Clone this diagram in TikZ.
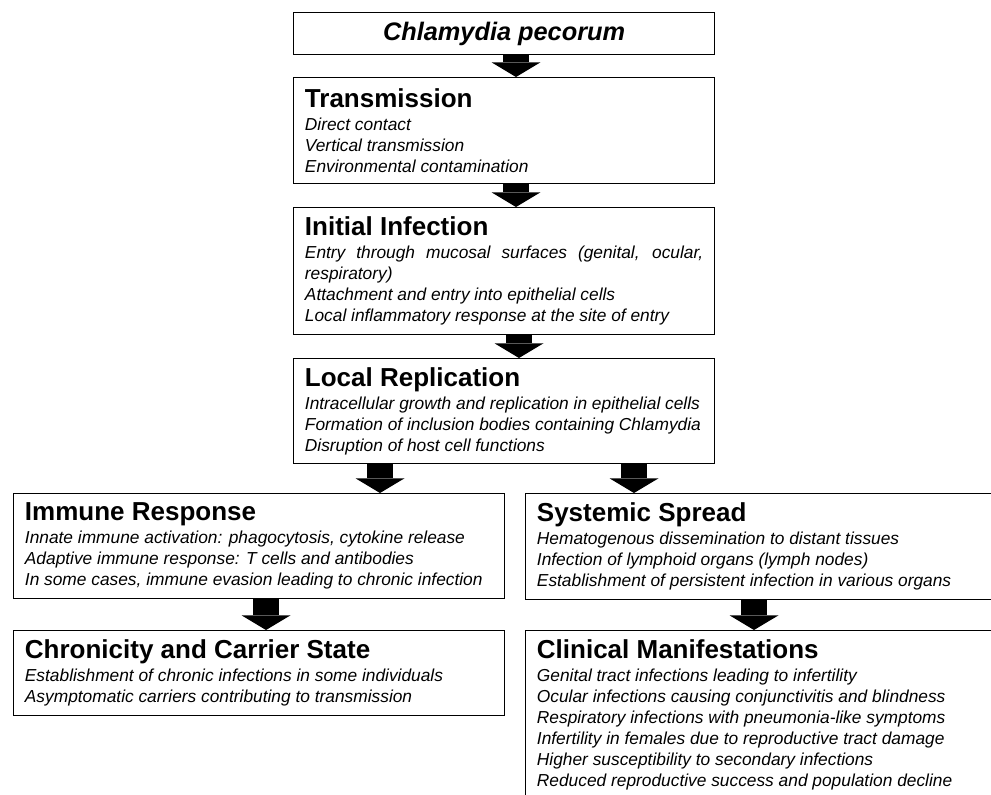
\documentclass[tikz,border=0pt]{standalone}
\usepackage{fontspec}
\setmainfont{Liberation Sans}
\usepackage{tikz}
\usetikzlibrary{arrows.meta, calc}
\setlength{\parindent}{0pt}
\hyphenpenalty=10000
\exhyphenpenalty=10000
\newcommand{\stagehead}[1]{{\fontsize{19.5}{22}\selectfont\bfseries\upshape #1\par}\vspace{1.5pt}}
\tikzset{
  topbox/.style  ={draw, line width=0.9pt, anchor=north west, minimum width=315.75pt, minimum height=31.5pt, inner sep=0pt, font=\fontsize{19}{22}\selectfont\bfseries\itshape},
  stagebox/.style={draw, line width=0.9pt, anchor=north west, inner xsep=8.5pt, inner ysep=0pt, align=justify, font=\fontsize{13}{15.75}\selectfont\itshape},
  midbox/.style  ={stagebox, text width=298.75pt},
  leftbox/.style ={stagebox, text width=351.25pt},
  rightbox/.style={stagebox, text width=343pt},
  blk/.style     ={-{Triangle[width=36.75pt, length=11pt, line width=0pt]}, line width=20pt}, % block arrow
}
\begin{document}
\begin{tikzpicture}[x=0.75pt, y=-0.75pt]
  \useasboundingbox (0,0) rectangle (991,794);
  \clip (0,0) rectangle (991,794);

  % middle column
  \node[topbox] (top) at (293,12) {Chlamydia pecorum};
  \node[midbox, minimum height=79.5pt] (trans) at (293,77) {\stagehead{Transmission}
    Direct contact\par
    Vertical transmission\par
    Environmental contamination};
  \node[midbox, minimum height=95.25pt] (init) at (293,207) {\stagehead{Initial Infection}
    Entry through mucosal surfaces (genital, ocular, respiratory)\par
    Attachment and entry into epithelial cells\par
    Local inflammatory response at the site of entry};
  \node[midbox, minimum height=78.75pt] (repl) at (293,358) {\stagehead{Local Replication}
    Intracellular growth and replication in epithelial cells\par
    Formation of inclusion bodies containing Chlamydia\par
    Disruption of host cell functions};

  % LEFT: immune branch
  \node[leftbox, minimum height=78.75pt] (imm) at (13,493) {\stagehead{Immune Response}
    Innate immune activation: phagocytosis, cytokine release\par
    Adaptive immune response: T cells and antibodies\par
    In some cases, immune evasion leading to chronic infection};
  \node[leftbox, minimum height=63.75pt] (chron) at (13,630) {\stagehead{Chronicity and Carrier State}
    Establishment of chronic infections in some individuals\par
    Asymptomatic carriers contributing to transmission};

  % RIGHT: systemic branch
  \node[rightbox, minimum height=79.5pt] (sys) at (525,493) {\stagehead{Systemic Spread}
    Hematogenous dissemination to distant tissues\par
    Infection of lymphoid organs (lymph nodes)\par
    Establishment of persistent infection in various organs};
  \node[rightbox, minimum height=126.75pt] (clin) at (525,630) {\stagehead{Clinical Manifestations}
    Genital tract infections leading to infertility\par
    Ocular infections causing conjunctivitis and blindness\par
    Respiratory infections with pneumonia-like symptoms\par
    Infertility in females due to reproductive tract damage\par
    Higher susceptibility to secondary infections\par
    Reduced reproductive success and population decline};

  % arrows
  \draw[blk] ($(top.south west)+(223,0)$) coordinate (a1) -- (a1 |- trans.north);
  \draw[blk] ($(trans.south west)+(223,0)$) coordinate (a2) -- (a2 |- init.north);
  \draw[blk] ($(init.south west)+(226,0)$) coordinate (a3) -- (a3 |- repl.north);
  \draw[blk] ($(repl.south west)+(87,0)$) coordinate (a4) -- (a4 |- imm.north);
  \draw[blk] ($(repl.south west)+(341,0)$) coordinate (a5) -- (a5 |- sys.north);
  \draw[blk] ($(imm.south west)+(253,0)$) coordinate (a6) -- (a6 |- chron.north);
  \draw[blk] ($(sys.south west)+(229,0)$) coordinate (a7) -- (a7 |- clin.north);
\end{tikzpicture}
\end{document}
